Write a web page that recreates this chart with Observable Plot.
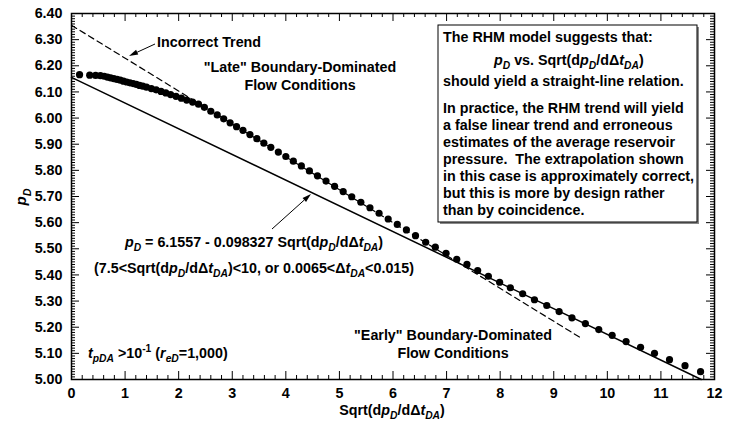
<!DOCTYPE html>
<html>
<head>
<meta charset="utf-8">
<script src="https://cdn.jsdelivr.net/npm/d3@7"></script>
<script src="https://cdn.jsdelivr.net/npm/@observablehq/plot@0.6"></script>
<style>
  body { margin: 0; background: #fff; }
  #chart svg { display: block; }
</style>
</head>
<body>
<div id="chart"></div>
<script>
// Simulated pD versus Sqrt(dpD/dΔtDA), tpDA > 0.1, reD = 1,000
const sqrtDeriv = [
  0.15, 0.34, 0.45, 0.54, 0.61, 0.67, 0.73, 0.79, 0.85, 0.91, 0.97, 1.03, 1.09, 1.15,
  1.21, 1.27, 1.33, 1.40, 1.49, 1.58, 1.67, 1.76, 1.85, 1.95, 2.05, 2.15, 2.26,
  2.37, 2.48, 2.60, 2.72, 2.84, 2.96, 3.08, 3.20, 3.33, 3.46, 3.59, 3.72, 3.86, 4.00,
  4.14, 4.29, 4.44, 4.59, 4.75, 4.91, 5.07, 5.23, 5.40, 5.57, 5.74, 5.91, 6.08, 6.25, 6.42,
  6.61, 6.79, 6.99, 7.19, 7.38, 7.58, 7.78, 7.99, 8.19, 8.42, 8.64, 8.87, 9.10, 9.34,
  9.59, 9.84, 10.09, 10.35, 10.62, 10.88, 11.16, 11.45, 11.74
];
const pD = [
  6.166, 6.164, 6.163, 6.162, 6.160, 6.157, 6.154, 6.151, 6.148, 6.145, 6.141, 6.138, 6.135, 6.132,
  6.129, 6.125, 6.122, 6.118, 6.113, 6.108, 6.102, 6.096, 6.090, 6.083, 6.076, 6.069, 6.061,
  6.053, 6.041, 6.026, 6.012, 5.997, 5.982, 5.967, 5.953, 5.937, 5.921, 5.904, 5.888, 5.870, 5.853,
  5.835, 5.817, 5.798, 5.779, 5.759, 5.739, 5.719, 5.699, 5.678, 5.657, 5.636, 5.614, 5.593, 5.572, 5.550,
  5.525, 5.506, 5.483, 5.460, 5.440, 5.417, 5.395, 5.372, 5.351, 5.328, 5.305, 5.283, 5.260, 5.236,
  5.214, 5.191, 5.169, 5.145, 5.123, 5.100, 5.076, 5.053, 5.030
];

// Straight-line fit quoted in the annotation
const fitIntercept = 6.1557;
const fitSlope = -0.098327;

// "Incorrect Trend" line end points
const trendX = [0, 9.53];
const trendY = [6.355, 5.156];

const xTicks = [0, 1, 2, 3, 4, 5, 6, 7, 8, 9, 10, 11, 12];
const yTicks = [5.0, 5.1, 5.2, 5.3, 5.4, 5.5, 5.6, 5.7, 5.8, 5.9, 6.0, 6.1, 6.2, 6.3, 6.4];

const W = 734, H = 426;
const M = {top: 13, right: 20, bottom: 47, left: 71};
const iw = W - M.left - M.right, ih = H - M.top - M.bottom;
const FONT = "'Liberation Sans', Arial, Helvetica, sans-serif";
const TXT = 14.3;

const points = sqrtDeriv.map((x, i) => ({x, y: pD[i]}));
const yMin = yTicks[0];
const fitEnd = (yMin - fitIntercept) / fitSlope;
const fitLine = [0, fitEnd].map(x => ({x, y: fitIntercept + fitSlope * x}));
const trend = trendX.map((x, i) => ({x, y: trendY[i]}));

const xMinor = d3.range(0, 60.5, 1).map(v => v / 5).filter(v => !xTicks.includes(v));
const yMinor = d3.range(500, 641).map(v => v / 100).filter(v => Math.round(v * 100) % 10 !== 0);

const MAJ = 8, MIN = 4;

const plot = Plot.plot({
  width: W,
  height: H,
  marginTop: M.top,
  marginRight: M.right,
  marginBottom: M.bottom,
  marginLeft: M.left,
  style: {fontFamily: FONT, fontSize: "14.3px", fontWeight: "bold", color: "#000", background: "#fff", overflow: "visible"},
  x: {domain: [0, 12], ticks: xTicks, tickFormat: d => String(d), tickSize: 0, tickPadding: 8, label: null},
  y: {domain: [5, 6.4], ticks: yTicks, tickFormat: d => d.toFixed(2), tickSize: 0, tickPadding: 9, label: null},
  marks: [
    // inward ticks on all four sides
    Plot.tickX(xTicks, {x: d => d, insetTop: ih - MAJ, stroke: "#000"}),
    Plot.tickX(xMinor, {x: d => d, insetTop: ih - MIN, stroke: "#000"}),
    Plot.tickX(xTicks, {x: d => d, insetBottom: ih - MAJ, stroke: "#000"}),
    Plot.tickX(xMinor, {x: d => d, insetBottom: ih - MIN, stroke: "#000"}),
    Plot.tickY(yTicks, {y: d => d, insetRight: iw - MAJ, stroke: "#000"}),
    Plot.tickY(yMinor, {y: d => d, insetRight: iw - MIN, stroke: "#000"}),
    Plot.tickY(yTicks, {y: d => d, insetLeft: iw - MAJ, stroke: "#000"}),
    Plot.tickY(yMinor, {y: d => d, insetLeft: iw - MIN, stroke: "#000"}),
    Plot.line(trend, {x: "x", y: "y", stroke: "#000", strokeWidth: 1.2, strokeDasharray: "6,4"}),
    Plot.line(fitLine, {x: "x", y: "y", stroke: "#000", strokeWidth: 1.5}),
    Plot.dot(points, {x: "x", y: "y", r: 3.6, fill: "#000", stroke: "none"}),
    Plot.frame({stroke: "#000", strokeWidth: 1.5})
  ]
});

document.getElementById("chart").appendChild(plot);

// ---- annotations (rich text with italics, sub- and superscripts) ----
const svg = d3.select(plot);
const ann = svg.append("g").attr("font-family", FONT).attr("font-weight", "bold").attr("fill", "#000");

function segments(s) {
  return s.split(/(\*[^*]+\*|_\{[^}]*\}|\^\{[^}]*\})/).filter(Boolean).map(t => {
    if (t[0] === "*") return {text: t.slice(1, -1), style: "i"};
    if (t.startsWith("_{")) return {text: t.slice(2, -1), style: "sub"};
    if (t.startsWith("^{")) return {text: t.slice(2, -1), style: "sup"};
    return {text: t, style: ""};
  });
}

function richText(x, y, str, {anchor = "start", size = TXT, rotate = 0} = {}) {
  const t = ann.append("text")
    .attr("x", x).attr("y", y)
    .attr("text-anchor", anchor)
    .attr("font-size", size)
    .style("white-space", "pre");
  if (rotate) t.attr("transform", `rotate(${rotate},${x},${y})`);
  let shift = 0;
  for (const seg of segments(str)) {
    const target = seg.style === "sub" ? size * 0.3 : seg.style === "sup" ? -size * 0.42 : 0;
    const ts = t.append("tspan").text(seg.text).attr("dy", (target - shift).toFixed(2));
    shift = target;
    if (seg.style === "i" || seg.style === "sub") ts.attr("font-style", "italic");
    if (seg.style === "sub" || seg.style === "sup") ts.attr("font-size", (size * 0.72).toFixed(1));
  }
  return t;
}

function arrow(x1, y1, x2, y2, len = 9, half = 2.6) {
  const a = Math.atan2(y2 - y1, x2 - x1);
  const bx = x2 - len * Math.cos(a), by = y2 - len * Math.sin(a);
  const nx = -Math.sin(a) * half, ny = Math.cos(a) * half;
  ann.append("line").attr("x1", x1).attr("y1", y1).attr("x2", bx).attr("y2", by)
    .attr("stroke", "#000").attr("stroke-width", 1);
  ann.append("path")
    .attr("d", `M${x2},${y2}L${bx + nx},${by + ny}L${bx - nx},${by - ny}Z`)
    .attr("fill", "#000");
}

// trend label and pointer
richText(157, 47, "Incorrect Trend");
arrow(155, 44, 129, 56);

// flow regime labels
richText(300, 72, "\"Late\" Boundary-Dominated", {anchor: "middle"});
richText(300, 90, "Flow Conditions", {anchor: "middle"});
richText(453, 340, "\"Early\" Boundary-Dominated", {anchor: "middle"});
richText(453, 358, "Flow Conditions", {anchor: "middle"});

// fitted line equation and pointer
richText(254, 247, "*p*_{D} = 6.1557 - 0.098327 Sqrt(d*p*_{D}/dΔ*t*_{DA})", {anchor: "middle"});
richText(254, 273, "(7.5<Sqrt(d*p*_{D}/dΔ*t*_{DA})<10, or 0.0065<Δ*t*_{DA}<0.015)", {anchor: "middle"});
arrow(272, 229, 311, 194);

// time range note
richText(88, 358, "*t*_{pDA} >10^{-1} (*r*_{eD}=1,000)");

// explanatory box
ann.append("rect").attr("x", 440).attr("y", 27).attr("width", 259).attr("height", 197).attr("fill", "#888");
ann.append("rect").attr("x", 438).attr("y", 25).attr("width", 259).attr("height", 197)
  .attr("fill", "#fff").attr("stroke", "#000").attr("stroke-width", 1);
const boxLines = [
  [443, 42, "The RHM model suggests that:"],
  [494, 65, "*p*_{D} vs. Sqrt(d*p*_{D}/dΔ*t*_{DA})"],
  [443, 86, "should yield a straight-line relation."],
  [443, 113, "In practice, the RHM trend will yield"],
  [443, 130, "a false linear trend and erroneous"],
  [443, 147, "estimates of the average reservoir"],
  [443, 164, "pressure.  The extrapolation shown"],
  [443, 181, "in this case is approximately correct,"],
  [443, 198, "but this is more by design rather"],
  [443, 215, "than by coincidence."]
];
for (const [x, y, s] of boxLines) richText(x, y, s);

// axis titles
richText(392, 415, "Sqrt(d*p*_{D}/dΔ*t*_{DA})", {anchor: "middle"});
richText(26, 197, "*p*_{D}", {anchor: "middle", rotate: -90, size: 15});
</script>
</body>
</html>
